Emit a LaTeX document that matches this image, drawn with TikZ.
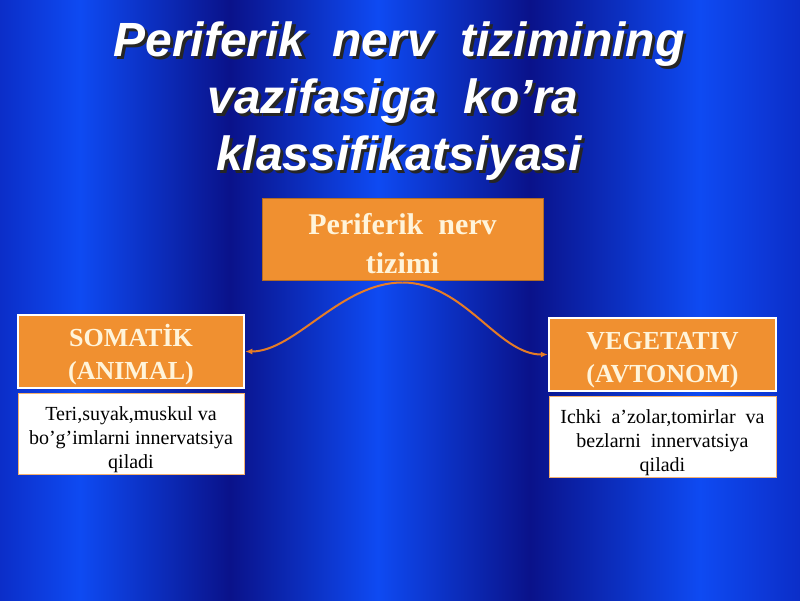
\documentclass[tikz,border=0pt]{standalone}
\usepackage{fontspec}
\setmainfont{Liberation Serif}
\newfontfamily\titlefont{Liberation Sans}
\usetikzlibrary{arrows.meta}
\definecolor{bright}{RGB}{14,74,242}
\definecolor{dark}{RGB}{10,18,138}
\definecolor{mid}{RGB}{12,46,200}
\definecolor{orng}{RGB}{240,144,48}
\definecolor{cream}{RGB}{255,244,218}
\definecolor{curvecol}{RGB}{230,124,38}
\newcommand\shadowed[1]{\rlap{\hspace{3pt}\raisebox{-3pt}{\textcolor{black!85}{#1}}}#1}
\tikzset{
  titletext/.style={font=\titlefont\bfseries\itshape\fontsize{48}{57}\selectfont, text=white, anchor=base, inner sep=0pt},
  orbox/.style={fill=orng, draw=white, line width=2.5pt, minimum width=226pt, minimum height=73pt, text=cream, font=\bfseries\fontsize{26}{33}\selectfont, align=center, inner sep=0pt},
  topbox/.style={fill=orng, draw=orng!75!black, line width=1pt, minimum width=281pt, minimum height=82pt, text=cream, font=\bfseries\fontsize{30}{39}\selectfont, align=center, inner sep=0pt},
  wbox/.style={fill=white, draw=orng!70, line width=1pt, minimum width=226pt, minimum height=81pt, align=center, font=\fontsize{20}{24}\selectfont, inner sep=0pt},
  conn/.style={draw=curvecol, line width=2pt, -{Latex[length=7pt,width=6pt]}}
}
\begin{document}
\begin{tikzpicture}[x=1pt,y=-1pt]
\useasboundingbox (0,0) rectangle (800,600);
% background stripes
\shade[left color=mid, right color=bright] (0,0) rectangle (80,600);
\shade[left color=bright, right color=dark] (80,0) rectangle (230,600);
\shade[left color=dark, right color=bright] (230,0) rectangle (378,600);
\shade[left color=bright, right color=dark] (378,0) rectangle (530,600);
\shade[left color=dark, right color=bright] (530,0) rectangle (700,600);
\shade[left color=bright, right color=mid] (700,0) rectangle (800,600);
% title
\node[titletext] (t1) at (399,56) {\shadowed{Periferik\ \ nerv\ \ tizimining}};
\node[titletext] (t2) at (393,113) {\shadowed{vazifasiga\ \ ko’ra}};
\node[titletext] (t3) at (399,170) {\shadowed{klassifikatsiyasi}};
% boxes
\node[topbox] (top) at (402.5,239) {\rule{0pt}{30pt}Periferik\ \ nerv\\tizimi};
\node[orbox] (left) at (131,351.5) {\rule{0pt}{28pt}SOMATİK\\(ANIMAL)};
\node[orbox, minimum width=227pt] (right) at (662.5,354.5) {\rule{0pt}{28pt}VEGETATIV\\(AVTONOM)};
\node[wbox] (lw) at (131,433.5) {\rule{0pt}{26pt}Teri,suyak,muskul va\\bo’g’imlarni innervatsiya\\qiladi};
\node[wbox, minimum width=227pt] (rw) at (662.5,436.5) {\rule{0pt}{26pt}Ichki\ \ a’zolar,tomirlar\ \ va\\bezlarni\ \ innervatsiya\\qiladi};
% connectors
\coordinate (joint) at ([yshift=-2pt]top.south);
\draw[conn] (joint) .. controls +(-62,0) and +(50,0) .. (left.east);
\draw[conn] (joint) .. controls +(62,0) and +(-50,0) .. (right.west);
\end{tikzpicture}
\end{document}
